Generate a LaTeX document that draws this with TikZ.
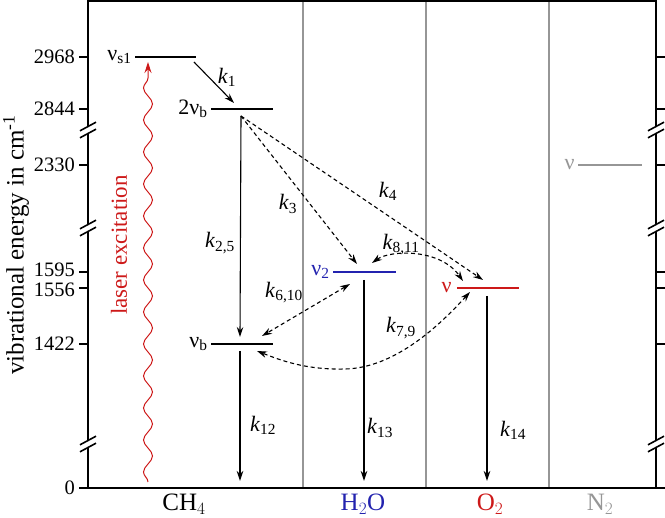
\documentclass[tikz,border=0pt]{standalone}
\usepackage{fontspec}
\setmainfont{Liberation Serif}
\usetikzlibrary{arrows.meta}
\usetikzlibrary{decorations.pathmorphing}
\usetikzlibrary{positioning}
\definecolor{h2oblue}{RGB}{35,35,175}
\definecolor{o2red}{RGB}{205,25,25}
\definecolor{n2gray}{RGB}{150,150,150}
\tikzset{axisline/.style = {line width=2.4, line cap=rect}}
\tikzset{colsep/.style = {n2gray, line width=1.2}}
\tikzset{lvl/.style = {line width=2.4}}
\tikzset{decay/.style = {-{Stealth[length=10,width=6.5]}, line width=1.1}}
\tikzset{transfer/.style = {-{Stealth[length=10,width=6.5]}, dash pattern=on 4 off 3, line width=1.1}}
\tikzset{exchange/.style = {{Stealth[length=10,width=6.5]}-{Stealth[length=10,width=6.5]}, dash pattern=on 4 off 3, line width=1.1}}
\tikzset{klab/.style = {inner sep=0}}
\tikzset{molec/.style = {font=\fontsize{25}{30}\selectfont}}
\tikzset{ticklab/.style = {anchor=east, inner sep=0, font=\fontsize{20.5}{24}\selectfont}}

\begin{document}
\begin{tikzpicture}[x=1pt,y=-1pt,font=\fontsize{22}{26}\selectfont]
        \useasboundingbox (0,0) rectangle (665,518);
        % molecule columns
        \draw [colsep] (303,0) -- (303,488);
        \draw [colsep] (426,0) -- (426,488);
        \draw [colsep] (549,0) -- (549,488);
        % frame and ticks
        \draw [axisline] (88,1) -- (656,1);
        \draw [axisline] (88,1) -- (88,488);
        \draw [axisline] (656,1) -- (656,488);
        \draw [axisline] (80,488) -- (664,488);
        \foreach \y/\ly/\val in {57/57/2968,109/109/2844,165/165/2330,272/270/1595,288/290/1556,344/344/1422,488/488/0} {
            \draw [axisline] (80,\y) -- (88,\y);
            \draw [axisline] (656,\y) -- (664,\y);
            \node [ticklab] (tick\val) at (75,\ly) {\val};
        }
        % axis breaks
        \foreach \x in {88,656} \foreach \y in {130,228,444} {
            \fill [white] (\x-7.5,\y+0.5) -- (\x+7.5,\y-7.5) -- (\x+7.5,\y-0.5) -- (\x-7.5,\y+7.5) -- cycle;
            \draw [line width=1.6] (\x-8,\y+0.8) -- (\x+8,\y-7.8);
            \draw [line width=1.6] (\x-8,\y+7.8) -- (\x+8,\y-0.8);
        }
        \node [rotate=90, font=\fontsize{25}{30}\selectfont] (ytitle) at (16,245) {vibrational energy in cm\textsuperscript{-1}};
        % molecules
        \node [molec] (ch4) at (184,504) {$\mathrm{CH}_4$};
        \node [molec, h2oblue] (h2o) at (363,504) {$\mathrm{H}_2\mathrm{O}$};
        \node [molec, o2red] (o2) at (490,504) {$\mathrm{O}_2$};
        \node [molec, n2gray] (n2) at (600,504) {$\mathrm{N}_2$};
        % levels
        \coordinate (s1L) at (135,57); \coordinate (s1R) at (196,57);
        \coordinate (bbL) at (211,109); \coordinate (bbR) at (273,109);
        \coordinate (bL) at (211,344); \coordinate (bR) at (273,344);
        \coordinate (h2L) at (333,272); \coordinate (h2R) at (396,272);
        \coordinate (o2L) at (457,288); \coordinate (o2R) at (519,288);
        \coordinate (n2L) at (578,165); \coordinate (n2R) at (642,165);
        \draw [lvl] (s1L) -- (s1R);
        \draw [lvl] (bbL) -- (bbR);
        \draw [lvl] (bL) -- (bR);
        \draw [lvl, h2oblue] (h2L) -- (h2R);
        \draw [lvl, o2red] (o2L) -- (o2R);
        \draw [lvl, n2gray] (n2L) -- (n2R);
        \node [left=0 of s1L] (s1lab) {ν\textsubscript{s1}};
        \node [left=0 of bbL] (bblab) {2ν\textsubscript{b}};
        \node [left=0 of bL] (blab) {ν\textsubscript{b}};
        \node [left=0 of h2L, h2oblue] (h2lab) {ν\textsubscript{2}};
        \node [left=2 of o2L, o2red] (o2lab) {ν};
        \node [left=0 of n2L, n2gray] (n2lab) {ν};
        % laser excitation
        \coordinate (lasA) at (148,482); \coordinate (lasB) at (148,62);
        \draw [o2red, line width=1, -{Stealth[length=11,width=7]}, decorate, decoration={snake, amplitude=4.5, segment length=32, post length=10}] (lasA) -- (lasB);
        \node [rotate=90, o2red, font=\fontsize{23}{27}\selectfont] (laslab) at (119,245) {laser excitation};
        % relaxation paths
        \coordinate (k1a) at (194,62); \coordinate (k1b) at (234,103);
        \coordinate (bbo) at (241,116);
        \coordinate (k25b) at (240,337);
        \coordinate (k12a) at (240,351); \coordinate (k12b) at (240,481);
        \coordinate (k13a) at (364,280); \coordinate (k13b) at (364,481);
        \coordinate (k14a) at (487,296); \coordinate (k14b) at (487,481);
        \coordinate (k3b) at (357,264);
        \coordinate (k4b) at (483,280);
        \coordinate (h2t) at (372,263); \coordinate (o2t) at (463,281);
        \coordinate (h2b) at (350,284); \coordinate (btop) at (262,336);
        \coordinate (o2b) at (470,292); \coordinate (bbot) at (257,351);
        \coordinate (k79m) at (345,369);
        \draw [decay] (k1a) -- (k1b);
        \draw [decay] (bbo) -- (k25b);
        \draw [decay] (k12a) -- (k12b);
        \draw [decay] (k13a) -- (k13b);
        \draw [decay] (k14a) -- (k14b);
        \draw [transfer] (bbo) -- (k3b);
        \draw [transfer] (bbo) -- (k4b);
        \draw [exchange] (h2t) .. controls (390,250) and (440,248) .. (o2t);
        \draw [exchange] (h2b) -- (btop);
        \draw [exchange] (o2b) .. controls (440,325) and (395,368) .. (k79m) .. controls (305,370) and (280,360) .. (bbot);
        \node [klab] (k1) at (227,77) {\textit{k}\textsubscript{1}};
        \node [klab] (k25) at (220,243) {\textit{k}\textsubscript{2,5}};
        \node [klab] (k3) at (288,204) {\textit{k}\textsubscript{3}};
        \node [klab] (k4) at (388,191) {\textit{k}\textsubscript{4}};
        \node [klab] (k811) at (401,245) {\textit{k}\textsubscript{8,11}};
        \node [klab] (k610) at (284,293) {\textit{k}\textsubscript{6,10}};
        \node [klab] (k79) at (401,328) {\textit{k}\textsubscript{7,9}};
        \node [klab] (k12) at (263,425) {\textit{k}\textsubscript{12}};
        \node [klab] (k13) at (380,428) {\textit{k}\textsubscript{13}};
        \node [klab] (k14) at (513,430) {\textit{k}\textsubscript{14}};
\end{tikzpicture}
\end{document}
